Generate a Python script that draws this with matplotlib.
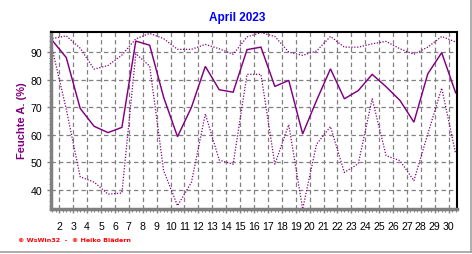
import matplotlib
matplotlib.use("Agg")
import matplotlib.pyplot as plt
import numpy as np
from matplotlib.ticker import MultipleLocator, FixedLocator

days = list(range(1, 31))
hum_mean = [94.3, 88.1, 69.6, 63.1, 60.8, 62.7, 94.1, 92.6, 73.7, 59.3,
            70.0, 84.9, 76.4, 75.5, 91.0, 91.9, 77.6, 79.8, 60.3, 72.5,
            84.0, 73.1, 76.1, 82.0, 77.5, 72.5, 64.6, 82.2, 89.9, 75.3]
hum_max = [95.0, 96.0, 91.5, 83.9, 85.2, 89.0, 94.9, 96.9, 95.0, 91.1,
           91.1, 92.9, 91.3, 89.3, 95.6, 97.2, 95.8, 90.1, 88.9, 90.5,
           95.8, 91.9, 91.9, 93.1, 94.0, 91.3, 89.3, 91.9, 95.8, 93.8]
hum_min = [91.0, 69.3, 44.7, 42.8, 38.4, 38.8, 89.5, 85.0, 47.0, 34.2,
           42.7, 67.6, 50.8, 49.3, 82.0, 82.0, 49.3, 63.7, 33.0, 56.6,
           63.0, 46.3, 49.5, 73.1, 52.4, 50.6, 43.3, 60.3, 77.0, 53.2]
tick_days = list(range(2, 31))
y_ticks = [40, 50, 60, 70, 80, 90]

purple = "#800080"
fig = plt.figure(figsize=(4.72, 2.55), dpi=100)
fig.patch.set_facecolor("white")
ax = fig.add_axes([50.7/472, 1-210/255, (457-50.7)/472, (210-33.3)/255])

x = [d + 0.5 for d in days]
ax.plot(x, hum_max, color=purple, lw=0.9, linestyle=(0, (1, 1.3)))
ax.plot(x, hum_min, color=purple, lw=0.9, linestyle=(0, (1, 1.3)))
ax.plot(x, hum_mean, color=purple, lw=1.05, solid_joinstyle="miter")

ax.set_xlim(1.38, 30.6)
ax.set_ylim(33.0, 97.3)

ax.xaxis.set_major_locator(FixedLocator(tick_days))
ax.set_xticklabels([str(d) for d in tick_days])
ax.xaxis.set_minor_locator(MultipleLocator(0.25))
ax.yaxis.set_major_locator(FixedLocator(y_ticks))
ax.yaxis.set_minor_locator(MultipleLocator(2))

ax.grid(True, which="major", color="#808080", linestyle=(0, (3.5, 2.5)), lw=0.9)
ax.tick_params(axis="x", which="major", length=3, width=1, color="#808080",
               labelsize=7.6, pad=6, direction="out")
ax.tick_params(axis="x", which="minor", length=2, width=0.8, color="#808080")
ax.tick_params(axis="y", which="major", length=3, width=1, color="#808080",
               labelsize=7.6, pad=3)
ax.tick_params(axis="y", which="minor", length=1.5, width=0.6, color="#808080")
for lab in ax.get_xticklabels() + ax.get_yticklabels():
    lab.set_fontfamily("Liberation Sans")

for s in ["left", "bottom"]:
    ax.spines[s].set_color("#808080")
    ax.spines[s].set_linewidth(2.5)
for s in ["top", "right"]:
    ax.spines[s].set_color("black")
    ax.spines[s].set_linewidth(1.5)

fig.text(237/472, 1-18/255, "April 2023", ha="center", va="center",
         color="#0000ff", fontsize=8.5, fontweight="bold", family="Liberation Sans")
fig.text(22/472, 1-121/255, "Feuchte A. (%)", ha="center", va="center",
         rotation=90, color=purple, fontsize=8, fontweight="bold", family="Liberation Sans")
fig.text(18/472, 1-241/255, "© WsWin32  -  © Heiko Blädern", ha="left", va="center",
         color="#ff0000", fontsize=4.6, fontweight="bold", family="DejaVu Sans")

# window frame lines (bottom and right)
fig.add_artist(plt.Line2D([0, 471/472], [1-253/255, 1-253/255], color="#a0a0a0", lw=1.2,
                          transform=fig.transFigure))
fig.add_artist(plt.Line2D([471/472, 471/472], [1-253/255, 1], color="#a0a0a0", lw=1.2,
                          transform=fig.transFigure))

fig.savefig("out.png", dpi=100)
